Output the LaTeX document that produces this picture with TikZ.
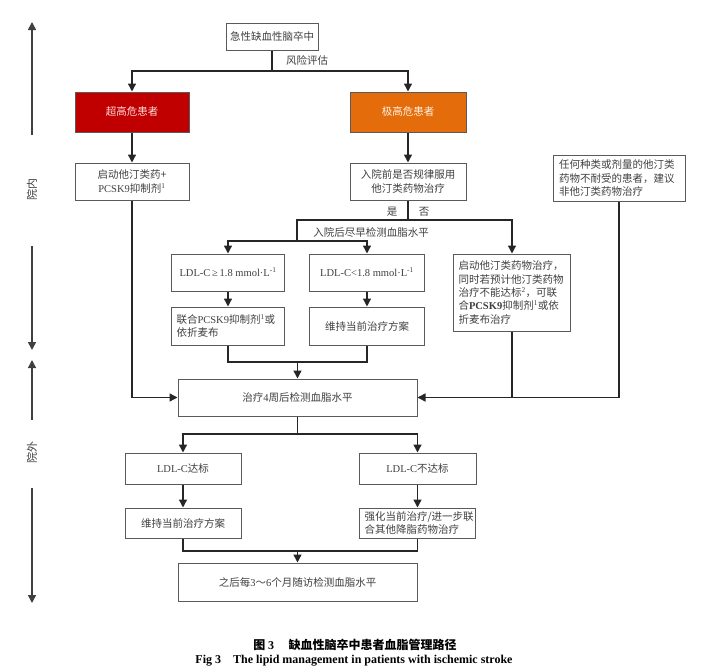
\documentclass[tikz,border=0pt]{standalone}
\usepackage{fontspec}
\setmainfont{Noto Sans CJK SC}
\newfontfamily\lat{Liberation Serif}
\usetikzlibrary{arrows.meta}
\definecolor{bordergray}{HTML}{5A5A5A}
\definecolor{txtgray}{HTML}{404040}
\definecolor{darkred}{HTML}{C00000}
\definecolor{orng}{HTML}{E46C0A}
\tikzset{
  box/.style={draw=bordergray, line width=1pt, inner sep=0pt, text=txtgray,
    font=\fontsize{10.5}{13.3}\selectfont, align=center},
  lbox/.style={box, align=left, inner xsep=5pt},
  ln/.style={draw=black!85, line width=1.4pt},
  arr/.style={ln, -{Triangle[width=8pt,length=8pt]}},
  garr/.style={draw=black!75, line width=1.5pt, -{Triangle[width=8pt,length=8pt]}},
  lbl/.style={text=txtgray, font=\fontsize{10.5}{13}\selectfont, inner sep=0pt},
}
\begin{document}
\begin{tikzpicture}[x=1pt,y=-1pt]
\useasboundingbox (0,0) rectangle (724,670);
\fill[white] (0,0) rectangle (724,670);
% helper coordinates
\coordinate (y71) at (0,71);
\coordinate (y220) at (0,220);
\coordinate (y241) at (0,241);
\coordinate (y362) at (0,362);
\coordinate (y434) at (0,434);
\coordinate (y551) at (0,551);
% nodes
\node[box, minimum width=92pt, minimum height=27pt] (top) at (272,36.5) {急性缺血性脑卒中};
\node[box, fill=darkred, text=white!85!red, minimum width=114pt, minimum height=40pt] (ur) at (132,112) {超高危患者};
\node[box, fill=orng, text=white!90!orange, minimum width=116pt, minimum height=40pt] (jr) at (408,112) {极高危患者};
\node[box, minimum width=114pt, minimum height=37pt] (s1) at (132,181.5) {启动他汀类药+\\{\lat PCSK9}抑制剂\textsuperscript{\lat 1}};
\node[box, minimum width=116pt, minimum height=37pt] (q) at (408,181.5) {入院前是否规律服用\\他汀类药物治疗};
\node[lbox, text width=120pt, inner xsep=6pt, minimum height=46pt] (intol) at (619,178) {任何种类或剂量的他汀类\\药物不耐受的患者，建议\\非他汀类药物治疗};
\node[box, minimum width=113pt, minimum height=37pt] (ge) at (228,272.5) {\lat LDL-C\,≥\,1.8 mmol·L\textsuperscript{-1}};
\node[box, minimum width=115pt, minimum height=37pt] (lt) at (367,272.5) {\lat LDL-C<1.8 mmol·L\textsuperscript{-1}};
\node[lbox, text width=103pt, minimum height=38pt] (comb) at (228,326) {联合{\lat PCSK9}抑制剂\textsuperscript{\lat 1}或\\依折麦布};
\node[box, minimum width=115pt, minimum height=38pt] (keep1) at (367,326) {维持当前治疗方案};
\node[lbox, text width=107pt, minimum height=77pt] (start) at (512,292.5) {启动他汀类药物治疗，\\同时若预计他汀类药物\\治疗不能达标\textsuperscript{\lat 2}，可联\\合{\lat\bfseries PCSK9}抑制剂\textsuperscript{\lat 1}或依\\折麦布治疗};
\node[box, minimum width=239pt, minimum height=37pt] (t4) at (297.5,397.5) {治疗{\lat 4}周后检测血脂水平};
\node[box, minimum width=116pt, minimum height=31pt] (ok) at (183,468.5) {{\lat LDL-C}达标};
\node[box, minimum width=117pt, minimum height=31pt] (nok) at (417.5,468.5) {{\lat LDL-C}不达标};
\node[box, minimum width=116pt, minimum height=30pt] (keep2) at (183,523) {维持当前治疗方案};
\node[lbox, text width=106pt, minimum height=30pt] (strong) at (417.5,523) {强化当前治疗/进一步联\\合其他降脂药物治疗};
\node[box, minimum width=239pt, minimum height=38pt] (fu) at (297.5,582) {之后每{\lat 3}～{\lat 6}个月随访检测血脂水平};
% labels
\node[lbl] (l1) at (307,60) {风险评估};
\node[lbl] (l2) at (392,212) {是};
\node[lbl] (l3) at (424,212) {否};
\node[lbl] (l4) at (371,232) {入院后尽早检测血脂水平};
% connectors
\draw[ln] (top.south) -- (top.south |- y71) coordinate (j1);
\draw[arr] (j1) -| (ur.north);
\draw[arr] (j1) -| (jr.north);
\draw[arr] (ur) -- (s1);
\draw[arr] (jr) -- (q);
\draw[ln] (q.south) -- (q.south |- y220) coordinate (j2);
\draw[arr] (j2) -| (start.north);
\draw[ln] (j2) -| (297,241) coordinate (j3);
\draw[arr] (j3) -| (ge.north);
\draw[arr] (j3) -| (lt.north);
\draw[arr] (ge) -- (comb);
\draw[arr] (lt) -- (keep1);
\draw[ln] (comb.south) |- (keep1.south |- y362) -- (keep1.south);
\draw[arr] (t4.north |- y362) -- (t4.north);
\draw[arr] (s1.south) |- (t4.west);
\draw[arr] (intol.south) |- (t4.east);
\draw[ln] (start.south) -- (start.south |- t4.east);
\draw[ln] (t4.south) -- (t4.south |- y434) coordinate (j5);
\draw[arr] (j5) -| (ok.north);
\draw[arr] (j5) -| (nok.north);
\draw[arr] (ok) -- (keep2);
\draw[arr] (nok) -- (strong);
\draw[ln] (keep2.south) |- (strong.south |- y551) -- (strong.south);
\draw[arr] (fu.north |- y551) -- (fu.north);
% side arrows
\coordinate (a1) at (32,135); \coordinate (a1t) at (32,22);
\coordinate (a2) at (32,246); \coordinate (a2t) at (32,350);
\coordinate (a3) at (32,420); \coordinate (a3t) at (32,360);
\coordinate (a4) at (32,488); \coordinate (a4t) at (32,603);
\draw[garr] (a1) -- (a1t);
\draw[garr] (a2) -- (a2t);
\draw[garr] (a3) -- (a3t);
\draw[garr] (a4) -- (a4t);
\node[lbl, rotate=90, font=\fontsize{11}{13}\selectfont] (in) at (32,189) {院内};
\node[lbl, rotate=90, font=\fontsize{11}{13}\selectfont] (out) at (32,452) {院外};
% caption
\node[inner sep=0pt, font=\fontsize{12}{14}\selectfont\bfseries] (cap1) at (355,645) {图 {\lat 3}\hspace{1.2em}缺血性脑卒中患者血脂管理路径};
\node[inner sep=0pt, font=\fontsize{12}{14}\selectfont\bfseries\lat] (cap2) at (354,661) {Fig 3\quad The lipid management in patients with ischemic stroke};
\end{tikzpicture}
\end{document}
